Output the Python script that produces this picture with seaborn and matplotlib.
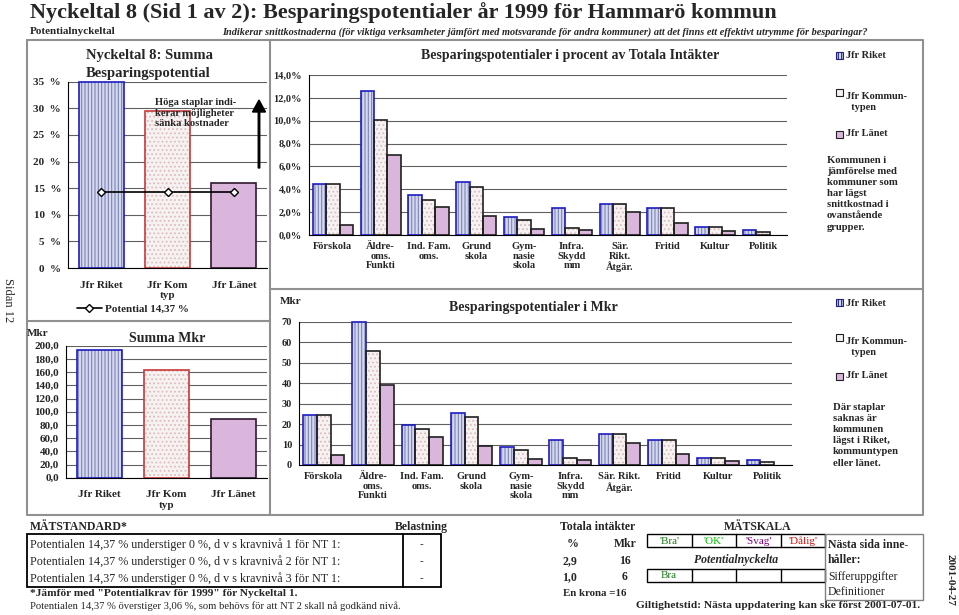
"""
Nyckeltal 8 - besparingspotentialer, Hammarö kommun 1999.
Recreates the one-page report layout with seaborn bar charts.
"""

import matplotlib

matplotlib.use("Agg")
import matplotlib.pyplot as plt
import numpy as np
import pandas as pd
import seaborn as sns
from matplotlib.lines import Line2D
from matplotlib.patches import FancyArrow, Rectangle
from matplotlib.ticker import FixedLocator, FuncFormatter

sns.set_theme(style="white")
plt.rcParams["font.family"] = ["Liberation Serif", "DejaVu Serif"]
plt.rcParams["font.weight"] = "bold"
plt.rcParams["hatch.linewidth"] = 0.8

W, H = 959, 615

# ---- data -------------------------------------------------------------
summa_groups = ["Jfr Riket", "Jfr Kom\ntyp", "Jfr Länet"]
summa_pct = [35.0, 29.5, 16.0]
summa_mkr = [194.0, 163.5, 89.5]
potential = 14.37

verks_labels_pct = ["Förskola", "Äldre-\noms.\nFunkti", "Ind. Fam.\noms.", "Grund\nskola",
                    "Gym-\nnasie\nskola", "Infra.\nSkydd\nmm", "Sär.\nRikt.\nÅtgär.",
                    "Fritid", "Kultur", "Politik"]
verks_labels_mkr = ["Förskola", "Äldre-\noms.\nFunkti", "Ind. Fam.\noms.", "Grund\nskola",
                    "Gym-\nnasie\nskola", "Infra.\nSkydd\nmm", "Sär. Rikt.\nÅtgär.",
                    "Fritid", "Kultur", "Politik"]
series = ["Jfr Riket", "Jfr Kommuntypen", "Jfr Länet"]

riket_pct = [4.43, 12.62, 3.47, 4.64, 1.60, 2.33, 2.68, 2.33, 0.67, 0.41]
kom_pct = [4.43, 10.06, 3.09, 4.20, 1.31, 0.64, 2.68, 2.33, 0.67, 0.23]
lan_pct = [0.87, 6.97, 2.48, 1.66, 0.50, 0.41, 1.98, 1.02, 0.35, 0.0]

riket_mkr = [24.2, 69.8, 19.4, 25.6, 9.0, 12.4, 15.1, 12.4, 3.6, 2.4]
kom_mkr = [24.2, 55.9, 17.4, 23.5, 7.5, 3.6, 15.1, 12.4, 3.6, 1.3]
lan_mkr = [4.7, 38.9, 13.8, 9.3, 2.8, 2.3, 10.6, 5.5, 2.0, 0.0]

# ---- styles -----------------------------------------------------------
FACE = ["#d6d9ec", "#f7f2f2", "#dab6dc"]
HATCH = ["|||||", "....", ""]
HATCH_COL = ["#7c84b8", "#dcbcbc", "#dab6dc"]
EDGE_LEFT = ["#1c1cc0", "#c83838", "#301830"]
EDGE_MID = ["#1c1cc0", "#202020", "#202020"]
GRID = "#606060"

fig = plt.figure(figsize=(W / 100, H / 100), dpi=100)


def px(x, y):
    return x / W, 1 - y / H


def add_ax(x0, y0, x1, y1):
    return fig.add_axes([x0 / W, 1 - y1 / H, (x1 - x0) / W, (y1 - y0) / H])


def ftext(x, y, s, **kw):
    kw.setdefault("fontsize", 8)
    kw.setdefault("va", "center")
    fig.text(x / W, 1 - y / H, s, **kw)


def fline(xs, ys, **kw):
    kw.setdefault("color", "#909090")
    kw.setdefault("lw", 1.5)
    fig.add_artist(Line2D([x / W for x in xs], [1 - y / H for y in ys], **kw))


def frect(x0, y0, x1, y1, **kw):
    kw.setdefault("fill", False)
    kw.setdefault("lw", 1.0)
    kw.setdefault("edgecolor", "black")
    fig.add_artist(Rectangle(px(x0, y1), (x1 - x0) / W, (y1 - y0) / H, transform=fig.transFigure, **kw))


def style_bars(ax, n_per_series, edges):
    # seaborn draws one hue level after another
    for i, p in enumerate(list(ax.patches)):
        k = i // n_per_series
        p.set_facecolor(FACE[k])
        p.set_hatch(HATCH[k])
        p.set_edgecolor(HATCH_COL[k])
        p.set_linewidth(0)
        if p.get_height() > 0:
            ax.add_patch(Rectangle(p.get_xy(), p.get_width(), p.get_height(), fill=False,
                                   edgecolor=edges[k], lw=1.2, zorder=p.get_zorder() + 0.1,
                                   clip_on=False))


def style_axis(ax, n, ticks, fmt, fs=8):
    ax.set_xlim(-0.5, n - 0.5)
    ax.set_ylim(ticks[0], ticks[-1])
    ax.set_yticks(ticks)
    ax.yaxis.set_major_formatter(FuncFormatter(fmt))
    ax.xaxis.set_minor_locator(FixedLocator(np.arange(0.5, n - 0.5, 1)))
    ax.tick_params(axis="x", which="major", length=0, labelsize=fs, pad=5)
    ax.tick_params(axis="x", which="minor", length=4, width=0.8, color="black", direction="inout")
    ax.tick_params(axis="y", length=3, width=0.8, color="black", direction="out", labelsize=fs, pad=2)
    ax.yaxis.grid(True, color=GRID, lw=0.8)
    ax.set_axisbelow(True)
    for side in ["top", "right"]:
        ax.spines[side].set_visible(False)
    for side in ["left", "bottom"]:
        ax.spines[side].set_color("black")
        ax.spines[side].set_linewidth(0.8)
    ax.set_xlabel("")
    ax.set_ylabel("")
    ax.set_facecolor("none")


# ---- header -----------------------------------------------------------
ftext(30, 13, "Nyckeltal 8 (Sid 1 av 2): Besparingspotentialer år 1999 för Hammarö kommun", fontsize=16)
ftext(30, 32, "Potentialnyckeltal", fontsize=8)
ftext(222, 32, "Indikerar snittkostnaderna (för viktiga verksamheter jämfört med motsvarande för andra "
      "kommuner) att det finns ett effektivt utrymme för besparingar?", fontsize=7.4, style="italic")

# frames
fline([27, 923, 923, 27, 27], [40, 40, 515, 515, 40])
fline([270, 270], [40, 515])
fline([27, 270], [321, 321])
fline([270, 923], [289, 289])

ftext(8, 300, "Sidan 12", fontsize=9, fontweight="normal", rotation=-90, ha="center")
ftext(950, 580, "2001-04-27", fontsize=8, rotation=-90, ha="center")

# ---- top left: summa procent --------------------------------------------
ax1 = add_ax(68, 81.7, 267, 268)
df1 = pd.DataFrame({"grupp": summa_groups, "pct": summa_pct})
sns.barplot(data=df1, x="grupp", y="pct", hue="grupp", width=0.68, ax=ax1, legend=False)
style_bars(ax1, 1, EDGE_LEFT)
(pot_line,) = ax1.plot(range(len(summa_groups)), [potential] * len(summa_groups), color="black",
                       lw=1.2, marker="D", ms=4, mfc="white", mec="black", zorder=5)
style_axis(ax1, 3, list(range(0, 36, 5)), lambda v, _: f"{v:.0f}  %", fs=8)
ax1.tick_params(axis="x", pad=9)
ftext(150, 56, "Nyckeltal 8: Summa", fontsize=10.5, ha="center")
ftext(148, 74, "Besparingspotential", fontsize=10.5, ha="center")
ftext(155, 113, "Höga staplar indi-\nkerar möjligheter\nsänka kostnader", fontsize=7.6,
      linespacing=1.2)
fig.add_artist(FancyArrow(259 / W, 1 - 168 / H, 0, 68 / H, width=1.5 / W, head_width=13 / W,
                          head_length=12 / H, color="black", transform=fig.transFigure,
                          length_includes_head=True))
fig.legend(handles=[pot_line], labels=["Potential 14,37 %"], loc="center",
           bbox_to_anchor=px(133, 309), frameon=False, fontsize=8, handlelength=2.2,
           handletextpad=0.3)

# ---- bottom left: summa Mkr ---------------------------------------------
ax2 = add_ax(66, 345.7, 267, 477.7)
df2 = pd.DataFrame({"grupp": summa_groups, "mkr": summa_mkr})
sns.barplot(data=df2, x="grupp", y="mkr", hue="grupp", width=0.68, ax=ax2, legend=False)
style_bars(ax2, 1, EDGE_LEFT)
style_axis(ax2, 3, list(range(0, 201, 20)), lambda v, _: f"{v:.1f}".replace(".", ","), fs=8)
ax2.tick_params(axis="x", pad=9)
ftext(27, 334, "Mkr", fontsize=8)
ftext(167, 339, "Summa Mkr", fontsize=10, ha="center")

# ---- middle top: procent av totala intäkter ----------------------------
n = len(verks_labels_pct)
df3 = pd.DataFrame({
    "verksamhet": verks_labels_pct * 3,
    "serie": np.repeat(series, n),
    "pct": riket_pct + kom_pct + lan_pct,
})
ax3 = add_ax(309, 75, 787, 235)
sns.barplot(data=df3, x="verksamhet", y="pct", hue="serie", width=0.84, gap=0, ax=ax3, legend=False)
style_bars(ax3, n, EDGE_MID)
style_axis(ax3, n, list(range(0, 15, 2)), lambda v, _: f"{v:.1f}%".replace(".", ","), fs=7.5)
for lab in ax3.get_xticklabels():
    lab.set_va("top")
    lab.set_linespacing(1.1)
ftext(570, 56, "Besparingspotentialer i procent av Totala Intäkter", fontsize=10, ha="center")

# ---- middle bottom: Mkr -------------------------------------------------
df4 = pd.DataFrame({
    "verksamhet": verks_labels_mkr * 3,
    "serie": np.repeat(series, n),
    "mkr": riket_mkr + kom_mkr + lan_mkr,
})
ax4 = add_ax(299, 321.7, 792, 465)
sns.barplot(data=df4, x="verksamhet", y="mkr", hue="serie", width=0.84, gap=0, ax=ax4, legend=False)
style_bars(ax4, n, EDGE_MID)
style_axis(ax4, n, list(range(0, 71, 10)), lambda v, _: f"{v:.0f}", fs=7.5)
for lab in ax4.get_xticklabels():
    lab.set_linespacing(1.1)
ftext(280, 301, "Mkr", fontsize=8)
ftext(533, 307, "Besparingspotentialer i Mkr", fontsize=10, ha="center")


# ---- right side legends --------------------------------------------------
def legend_block(entries):
    for k, (label, y) in enumerate(entries):
        frect(836, y - 3.5, 843, y + 3.5, fill=True, facecolor=FACE[k], hatch=HATCH[k].replace("....", ""),
              edgecolor=EDGE_MID[k] if k else "#202080", lw=0.8)
        ftext(846, y, label, fontsize=7.5, va="top" if "\n" in label else "center",
              linespacing=1.3)


legend_block([("Jfr Riket", 55), ("Jfr Kommun-\n  typen", 92), ("Jfr Länet", 134)])
ftext(827, 156, "Kommunen i\njämförelse med\nkommuner som\nhar lägst\nsnittkostnad i\novanstående\ngrupper.",
      fontsize=7.7, va="top", linespacing=1.3)
legend_block([("Jfr Riket", 303), ("Jfr Kommun-\n  typen", 337), ("Jfr Länet", 376)])
ftext(833, 403, "Där staplar\nsaknas är\nkommunen\nlägst i Riket,\nkommuntypen\neller länet.",
      fontsize=7.7, va="top", linespacing=1.3)

# ---- bottom: mätstandard --------------------------------------------------
ftext(30, 527, "MÄTSTANDARD*", fontsize=8.5)
ftext(448, 527, "Belastning", fontsize=8.5, ha="right")
frect(27, 534, 441, 587, lw=1.3)
fline([403, 403], [534, 587], color="black", lw=1.3)
for i, y in enumerate([545, 562, 579]):
    ftext(30, y, f"Potentialen 14,37 % understiger 0 %, d v s kravnivå {i + 1} för NT 1:",
          fontsize=8.7, fontweight="normal")
    ftext(421, y, "-", fontsize=8, fontweight="normal", ha="center")
ftext(30, 593, "*Jämför med \"Potentialkrav för 1999\" för Nyckeltal 1.", fontsize=8.2)
ftext(30, 606, "Potentialen 14,37 % överstiger 3,06 %, som behövs för att NT 2 skall nå godkänd nivå.",
      fontsize=7.7, fontweight="normal")

# totala intäkter
ftext(598, 527, "Totala intäkter", fontsize=8.5, ha="center")
ftext(573, 544, "%", fontsize=8.5, ha="center")
ftext(625, 544, "Mkr", fontsize=8.5, ha="center")
ftext(570, 561, "2,9", fontsize=8.5, ha="center")
ftext(625, 561, "16", fontsize=8.5, ha="center")
ftext(570, 577, "1,0", fontsize=8.5, ha="center")
ftext(625, 577, "6", fontsize=8.5, ha="center")
ftext(595, 593, "En krona =16", fontsize=7.8, ha="center")

# mätskala
ftext(758, 527, "MÄTSKALA", fontsize=8.5, ha="center")
cells = [647, 692, 736, 781, 825]
names = ["'Bra'", "'OK'", "'Svag'", "'Dålig'"]
cols = ["#1e7a1e", "#00c000", "#800080", "#d01010"]
frect(647, 534, 825, 547, lw=1.0)
frect(647, 569, 825, 582, lw=1.0)
for x in cells[1:-1]:
    fline([x, x], [534, 547], color="black", lw=1.0)
    fline([x, x], [569, 582], color="black", lw=1.0)
for x0, x1, s, c in zip(cells[:-1], cells[1:], names, cols):
    ftext((x0 + x1) / 2, 541, s, fontsize=8, fontweight="normal", color=c, ha="center")
ftext(736, 560, "Potentialnyckelta", fontsize=8.5, style="italic", ha="center")
ftext(669, 576, "Bra", fontsize=8, fontweight="normal", color=cols[0], ha="center")
frect(825, 534, 923, 600, lw=1.0, edgecolor="#808080")
ftext(828, 545, "Nästa sida inne-", fontsize=8.5)
ftext(828, 560, "håller:", fontsize=8.5)
ftext(828, 577, "Sifferuppgifter", fontsize=8.5, fontweight="normal")
ftext(828, 592, "Definitioner", fontsize=8.5, fontweight="normal")
ftext(920, 606, "Giltighetstid: Nästa uppdatering kan ske först 2001-07-01.", fontsize=8.2, ha="right")

fig.savefig("out.png", dpi=100)
